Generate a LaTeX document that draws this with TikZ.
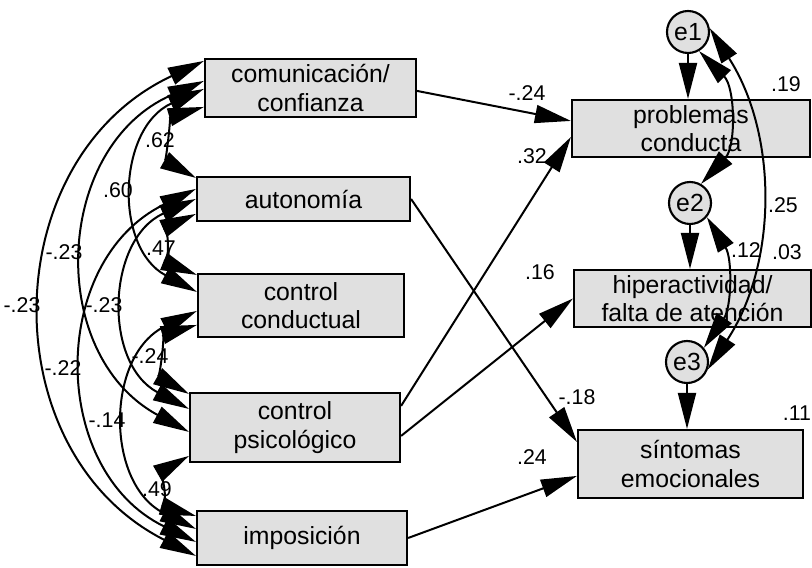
\documentclass[tikz,border=0pt]{standalone}
\usepackage{fontspec}
\setmainfont{Liberation Sans}
\usetikzlibrary{arrows.meta,calc}

\begin{document}
\begin{tikzpicture}[x=0.75pt,y=-0.75pt,
  >={Triangle[length=27pt,width=13.5pt]},
  varbox/.style={draw=black,line width=1.6pt,fill=black!12,align=center,inner sep=0pt,
    font=\fontsize{18.6}{21.5}\selectfont},
  errnode/.style={circle,draw=black,line width=1.6pt,fill=black!12,minimum size=31.5pt,
    inner sep=0pt,font=\fontsize{18.6}{21.5}\selectfont},
  coef/.style={inner sep=0pt,font=\fontsize{16}{18}\selectfont},
  regarrow/.style={line width=1.5pt,->},
  covarrow/.style={line width=1.5pt,<->},
  widearc/.style={bend right=64,looseness=1.19},
  narrowarc/.style={bend right=67,looseness=1.23},
]
\useasboundingbox (0,0) rectangle (812,567);

% observed variables
\node[varbox,minimum width=158.25pt,minimum height=43.5pt] (com) at (310.5,88) {comunicación/\\confianza};
\node[varbox,minimum width=159.75pt,minimum height=33pt] (aut) at (303.5,199) {autonomía};
\node[varbox,minimum width=154.5pt,minimum height=47.25pt] (cc) at (301,305.5) {control\\conductual};
\node[varbox,minimum width=157.5pt,minimum height=51.75pt] (cp) at (295,427.5) {control\\psicológico};
\node[varbox,minimum width=157.5pt,minimum height=40.5pt] (imp) at (302,538) {imposición};
\node[varbox,minimum width=178.5pt,minimum height=42.75pt] (prob) at (691,128.5) {problemas\\conducta};
\node[varbox,minimum width=177.75pt,minimum height=42.75pt] (hip) at (692.5,298.5) {hiperactividad/\\falta de atención};
\node[varbox,minimum width=168.75pt,minimum height=51pt] (sin) at (690.5,464) {síntomas\\emocionales};

% error terms
\node[errnode] (e1) at (688,32) {e1};
\node[errnode] (e2) at (690,203) {e2};
\node[errnode] (e3) at (687,362) {e3};

% coefficients
\node[coef] (k1) at (160,140) {.62};
\node[coef] (k2) at (118,190) {.60};
\node[coef] (k3) at (64,252) {-.23};
\node[coef] (k4) at (22,305) {-.23};
\node[coef] (k5) at (161,248) {.47};
\node[coef] (k6) at (104,305) {-.23};
\node[coef] (k7) at (63,368) {-.22};
\node[coef] (k8) at (150,356) {-.24};
\node[coef] (k9) at (107,420) {-.14};
\node[coef] (k10) at (157,489) {.49};
\node[coef] (k11) at (527,93) {-.24};
\node[coef] (k12) at (532,156) {.32};
\node[coef] (k13) at (540,272) {.16};
\node[coef] (k14) at (577,397) {-.18};
\node[coef] (k15) at (532,457) {.24};
\node[coef] (k16) at (786,84) {.19};
\node[coef] (k17) at (783,205) {.25};
\node[coef] (k18) at (746,250) {.12};
\node[coef] (k19) at (787,252) {.03};
\node[coef] (k20) at (797,413) {.11};

% covariances among predictors
\draw[covarrow,narrowarc] ($(com.north west)+(0,49)$) to ($(aut.north west)+(0,2)$);
\draw[covarrow,narrowarc] ($(aut.north west)+(0,38)$) to ($(cc.north west)+(0,2)$);
\draw[covarrow,narrowarc] ($(cc.north west)+(0,52)$) to ($(cp.north west)+(0,2)$);
\draw[covarrow,narrowarc] ($(cp.north west)+(0,64)$) to ($(imp.north west)+(0,6)$);
\draw[covarrow,widearc] ($(com.north west)+(0,31)$) to ($(cc.north west)+(0,19)$);
\draw[covarrow,widearc] ($(aut.north west)+(0,23)$) to ($(cp.north west)+(0,17)$);
\draw[covarrow,widearc] ($(cc.north west)+(0,38)$) to ($(imp.north west)+(0,19)$);
\draw[covarrow,widearc] ($(com.north west)+(0,23)$) to ($(cp.north west)+(0,40)$);
\draw[covarrow,widearc] ($(aut.north west)+(0,13)$) to ($(imp.north west)+(0,32)$);
\draw[covarrow,widearc] ($(com.north west)+(0,3)$) to ($(imp.north west)+(0,46)$);

% covariances among error terms
\draw[covarrow,bend left=44,looseness=0.99] (e1.-60) to (e2.60);
\draw[covarrow,bend left=33,looseness=0.95] (e1.10) to (e3.-20);
\draw[covarrow,bend left=33,looseness=0.96] (e2.-40) to (e3.40);

% regression paths
\draw[regarrow] ($(com.north east)+(0,33)$) -- ($(prob.north west)+(0,22)$);
\draw[regarrow] (aut.east) -- ($(sin.north west)+(0,13)$);
\draw[regarrow] ($(cp.north east)+(0,14)$) -- ($(prob.north west)+(0,38)$);
\draw[regarrow] ($(cp.north east)+(0,44)$) -- (hip.west);
\draw[regarrow] (imp.east) -- ($(sin.north west)+(0,47)$);

% error terms to outcomes
\draw[regarrow] (e1) -- (e1 |- prob.north);
\draw[regarrow] (e2) -- (e2 |- hip.north);
\draw[regarrow] (e3) -- (e3 |- sin.north);
\end{tikzpicture}
\end{document}
